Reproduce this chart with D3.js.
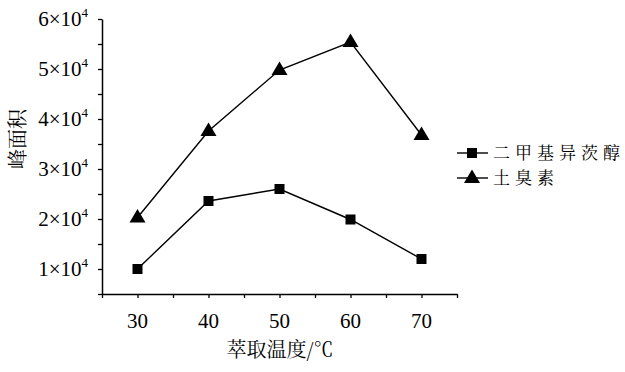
<!DOCTYPE html>
<html><head><meta charset="utf-8">
<script src="https://cdn.jsdelivr.net/npm/d3@7"></script>
<style>body{margin:0;background:#fff}svg{display:block}</style>
</head><body><svg id="c" width="625" height="372"></svg>
<script>
const temps = [30, 40, 50, 60, 70];
const seriesNames = ["二甲基异茨醇", "土臭素"];
const mibValues = [10000, 23600, 26000, 19900, 12000];
const geoValues = [20300, 37600, 49800, 55400, 36800];
const xTicks = [25, 30, 35, 40, 45, 50, 55, 60, 65, 70, 75];
const xLabels = [30, 40, 50, 60, 70];
const yTicks = [5000,10000,15000,20000,25000,30000,35000,40000,45000,50000,55000,60000];
const yLabels = [10000,20000,30000,40000,50000,60000];
const xTitle = "萃取温度/℃";
const yTitle = "峰面积";

const NUM = '"Liberation Serif"';
const CJK = '"Noto Serif CJK SC"';

const svg = d3.select("#c");
const x = d3.scaleLinear().domain([25, 75]).range([102, 457]);
const y = d3.scaleLinear().domain([5000, 60000]).range([294, 19]);

// axes
const gx = svg.append("g").attr("transform", "translate(0,294)")
  .call(d3.axisBottom(x).tickValues(xTicks).tickSize(4).tickSizeOuter(0).tickFormat(""));
const gy = svg.append("g").attr("transform", "translate(102,0)")
  .call(d3.axisLeft(y).tickValues(yTicks).tickSize(4).tickSizeOuter(0).tickFormat(""));
[gx, gy].forEach(g => {
  g.select(".domain").attr("stroke", "#000").attr("stroke-width", 1.5);
  g.selectAll(".tick line").attr("stroke", "#000").attr("stroke-width", 1.3);
});

// x labels
svg.append("g").selectAll("text").data(xLabels).join("text")
  .style("font-family", NUM)
  .attr("x", d => x(d)).attr("y", 328).attr("text-anchor", "middle")
  .attr("font-size", 21).attr("fill", "#000")
  .text(d => d);

// y labels with superscript
const yl = svg.append("g").selectAll("text").data(yLabels).join("text")
  .style("font-family", NUM)
  .attr("x", 88).attr("y", d => y(d) + 7).attr("text-anchor", "end")
  .attr("font-size", 21).attr("fill", "#000");
yl.append("tspan").text(d => (d / 10000) + "×10");
yl.append("tspan").attr("font-size", 13).attr("dy", -9).text("4");

// titles
svg.append("text").style("font-family", CJK).attr("x", 280).attr("y", 357).attr("text-anchor", "middle")
  .attr("font-size", 20).attr("fill", "#000").text(xTitle);
svg.append("text").style("font-family", CJK).attr("transform", "translate(25,139) rotate(-90)").attr("text-anchor", "middle")
  .attr("font-size", 20).attr("fill", "#000").text(yTitle);

// lines
const line = d3.line().x((d, i) => x(temps[i])).y(d => y(d));
const triPath = "M0,-8.5L8,5L-8,5Z";
[mibValues, geoValues].forEach((vals, si) => {
  svg.append("path").attr("d", line(vals)).attr("fill", "none")
    .attr("stroke", "#000").attr("stroke-width", 1.4);
  const g = svg.append("g");
  if (si === 0) {
    g.selectAll("rect").data(vals).join("rect")
      .attr("x", (d, i) => x(temps[i]) - 5).attr("y", d => y(d) - 5)
      .attr("width", 10).attr("height", 10).attr("fill", "#000");
  } else {
    g.selectAll("path").data(vals).join("path")
      .attr("transform", (d, i) => `translate(${x(temps[i])},${y(d)})`)
      .attr("d", triPath).attr("fill", "#000");
  }
});

// legend
const lg = svg.append("g");
seriesNames.forEach((name, i) => {
  const cy = 153 + i * 25;
  lg.append("line").attr("x1", 457).attr("x2", 488).attr("y1", cy).attr("y2", cy)
    .attr("stroke", "#000").attr("stroke-width", 1.4);
  if (i === 0) lg.append("rect").attr("x", 467).attr("y", cy - 5).attr("width", 10).attr("height", 10).attr("fill", "#000");
  else lg.append("path").attr("transform", `translate(472,${cy})`).attr("d", triPath).attr("fill", "#000");
  lg.append("text").style("font-family", CJK).attr("x", 493).attr("y", cy + 6)
    .attr("font-size", 17).attr("letter-spacing", 5).attr("fill", "#000").text(name);
});
</script></body></html>
